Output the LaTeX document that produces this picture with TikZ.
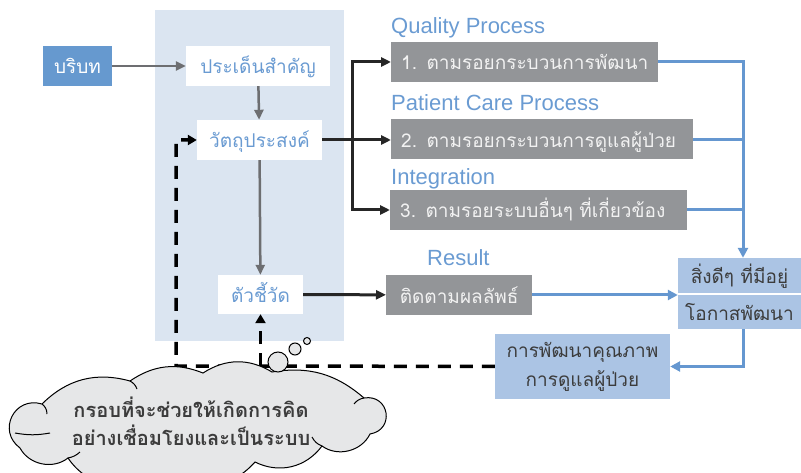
\documentclass[tikz,border=0pt]{standalone}
\usepackage{fontspec}
\setmainfont{Liberation Sans}
\newfontfamily\thaifont[Script=Thai]{Loma}
\usetikzlibrary{positioning,calc,arrows.meta}
\definecolor{panelblue}{RGB}{219,229,241}
\definecolor{ctxblue}{RGB}{102,153,207}
\definecolor{textblue}{RGB}{106,155,210}
\definecolor{lineblue}{RGB}{101,151,208}
\definecolor{procgray}{RGB}{147,149,152}
\definecolor{lightbox}{RGB}{171,196,228}
\definecolor{darktext}{RGB}{60,60,60}
\definecolor{linegray}{RGB}{109,110,113}
\definecolor{cloudgray}{RGB}{230,231,232}
\tikzset{
  thai/.style={inner sep=0pt,font=\thaifont\fontsize{19}{29}\selectfont},
  oneline/.style={text height=20pt,text depth=4pt,minimum height=40pt},
  ctxbox/.style={thai,oneline,fill=ctxblue,text=white},
  keybox/.style={thai,oneline,fill=white,text=textblue},
  procbox/.style={thai,oneline,fill=procgray,text=white!95!black,
    inner xsep=10pt,align=left,anchor=west},
  notebox/.style={thai,fill=lightbox,text=darktext},
  lab/.style={inner sep=0pt,anchor=base west,text=textblue,
    font=\fontsize{22}{26}\selectfont},
  grayarrow/.style={draw=linegray,line width=2.5pt,
    -{Triangle[length=10pt,width=9pt]}},
  blackarrow/.style={draw=black!85,line width=3pt,
    -{Triangle[length=10pt,width=9pt]}},
  blueline/.style={draw=lineblue,line width=3pt},
  bluearrow/.style={blueline,-{Triangle[length=10pt,width=10pt]}},
  dasharrow/.style={draw=black,line width=3.5pt,dash pattern=on 13pt off 9pt,
    -{Triangle[length=9pt,width=10pt]}},
  thought/.style={draw=black,line width=1pt,fill=cloudgray},
  thinktext/.style={align=center,text=darktext,inner sep=0pt,
    font=\thaifont\bfseries\fontsize{20}{28}\selectfont},
  bubble/.style={circle,draw=black,line width=1pt,fill=cloudgray,inner sep=0pt}
}
\begin{document}
\begin{tikzpicture}[x=1pt,y=-1pt]
  \useasboundingbox (0,0) rectangle (801,473);
  \fill[panelblue] (155,10) rectangle (344,341);
  \node (ctx) [ctxbox,minimum width=69pt] at (77.5,66) {บริบท};
  \node (issue) [keybox,minimum width=144pt] at (258,66) {ประเด็นสำคัญ};
  \node (obj) [keybox,minimum width=125pt] at (259.5,140) {วัตถุประสงค์};
  \node (kpi) [keybox,minimum width=85pt,minimum height=39pt] at (260.5,294.5) {ตัวชี้วัด};
  \node (qlab) [lab] at (391,34) {Quality Process};
  \node (plab) [lab] at (391,111) {Patient Care Process};
  \node (ilab) [lab] at (391,185) {Integration};
  \node (rlab) [lab] at (427,266) {Result};
  \node (p1) [procbox,text width=247pt] at (391,62) {1. ตามรอยกระบวนการพัฒนา};
  \node (p2) [procbox,text width=282pt] at (391,139.5) {2. ตามรอยกระบวนการดูแลผู้ป่วย};
  \node (p3) [procbox,text width=277pt] at (390,210) {3. ตามรอยระบบอื่นๆ ที่เกี่ยวข้อง};
  \node (res) [procbox,align=center,text width=126pt] at (386,295) {ติดตามผลลัพธ์};
  \node (good) [notebox,oneline,minimum width=123pt,minimum height=35pt] at (739.5,275.5) {สิ่งดีๆ ที่มีอยู่};
  \node (chance) [notebox,oneline,minimum width=123pt,minimum height=34pt] at (739.5,312) {โอกาสพัฒนา};
  \node (dev) [notebox,align=center,minimum width=175pt,minimum height=65pt] at (582.5,366.5) {การพัฒนาคุณภาพ\\การดูแลผู้ป่วย};
  \coordinate (split) at (352,140);
  \coordinate (bus) at (743,62);
  \coordinate (loop) at (176,366);
  \draw[grayarrow] (ctx) -- (issue);
  \draw[grayarrow] (issue) -- (obj);
  \draw[grayarrow] (obj) -- (kpi);
  \draw[blackarrow] (obj) -- (obj -| p2.west);
  \draw[blackarrow] (split) |- (p1);
  \draw[blackarrow] (split) |- (p3);
  \draw[blackarrow] (kpi) -- (res);
  \draw[blueline] (p2.east) -- (p2.east -| bus);
  \draw[blueline] (p3.east) -- (p3.east -| bus);
  \draw[bluearrow] (p1.east) -| (good.north -| bus);
  \draw[bluearrow] (res) -- (res -| good.west);
  \draw[bluearrow] (chance.south -| bus) |- (dev);
  \draw[dasharrow] (dev) -- (loop) |- (obj);
  \draw[dasharrow] (kpi |- loop) -- (kpi);
  \draw[thought] (20,448) to[bend left=80,looseness=1.5] (42,404) to[bend left=30] (130,381)
    to[bend left=28] (203,373) to[bend left=32] (272,372) to[bend left=25] (364,398)
    to[bend left=90,looseness=1.8] (370,434) to[bend left=50] (322,446) to[bend left=40] (255,462)
    to[bend left=40] (160,476) to[bend left=45] (68,458) to[bend left=50] cycle;
  \draw[line width=1pt] (42,404) to[bend left=25] (47,414)
    (130,381) to[bend left=20] (137,389) (15,433) to[bend right=10] (50,433)
    (364,398) to[bend right=20] (354,404) (322,446) to[bend left=20] (312,437)
    (68,458) to[bend right=15] (80,452);
  \node (idea) [thinktext] at (191,421) {กรอบที่จะช่วยให้เกิดการคิด\\อย่างเชื่อมโยงและเป็นระบบ};
  \node (b1) [bubble,minimum size=20pt] at (278,362) {};
  \node (b2) [bubble,minimum size=12pt] at (295,349) {};
  \node (b3) [bubble,minimum size=7pt] at (307,341) {};
\end{tikzpicture}
\end{document}
